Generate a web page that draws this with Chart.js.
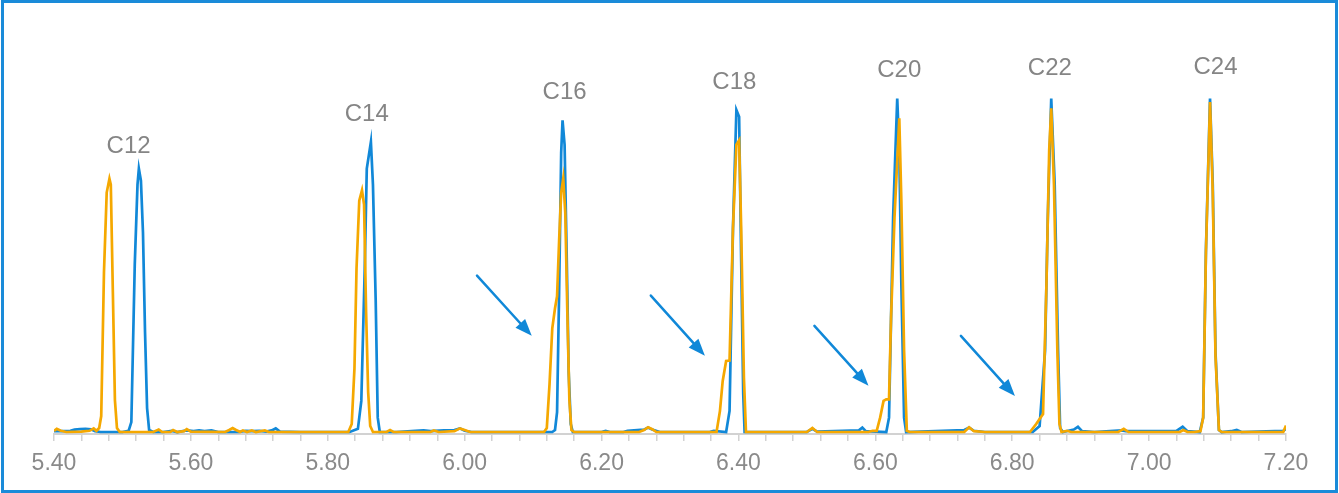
<!DOCTYPE html>
<html>
<head>
<meta charset="utf-8">
<script src="https://cdn.jsdelivr.net/npm/chart.js@4.4.1/dist/chart.umd.min.js"></script>
<style>
  html, body { margin: 0; padding: 0; background: #ffffff; }
  canvas { display: block; }
</style>
</head>
<body>
<canvas id="chrom" width="1339" height="493"></canvas>
<script>
// Retention time (min) and detector response for the two overlaid traces.
const blueTimes = [
  5.400, 5.412, 5.424, 5.430, 5.438, 5.446, 5.454, 5.460, 5.468, 5.500,
  5.509, 5.513, 5.518, 5.522, 5.524, 5.527, 5.530, 5.533, 5.536, 5.539,
  5.545, 5.560, 5.572, 5.580, 5.594, 5.604, 5.612, 5.620, 5.630, 5.640,
  5.670, 5.680, 5.690, 5.700, 5.710, 5.718, 5.724, 5.730, 5.760, 5.832,
  5.844, 5.849, 5.854, 5.857, 5.863, 5.866, 5.870, 5.873, 5.876, 5.900,
  5.928, 5.940, 5.950, 5.970, 5.985, 5.993, 6.000, 6.010, 6.100, 6.128,
  6.132, 6.135, 6.138, 6.141, 6.143, 6.146, 6.149, 6.152, 6.155, 6.158,
  6.200, 6.206, 6.212, 6.232, 6.238, 6.262, 6.268, 6.274, 6.285, 6.358,
  6.364, 6.382, 6.387, 6.392, 6.397, 6.401, 6.404, 6.407, 6.409, 6.500,
  6.508, 6.515, 6.576, 6.581, 6.586, 6.616, 6.620, 6.626, 6.632, 6.635,
  6.638, 6.642, 6.645, 6.730, 6.737, 6.744, 6.760, 6.830, 6.840, 6.848,
  6.852, 6.857, 6.862, 6.867, 6.870, 6.874, 6.890, 6.896, 6.902, 6.920,
  6.960, 6.966, 7.040, 7.049, 7.056, 7.074, 7.079, 7.083, 7.089, 7.093,
  7.097, 7.102, 7.106, 7.120, 7.128, 7.135, 7.196, 7.200
];
const blueValues = [
  0.2, 0.2, 0.3, 0.6, 0.7, 0.8, 0.7, 0.2, 0.0, 0.0,
  0.3, 2.5, 42, 62, 66, 63, 50, 25, 6, 0.5,
  0.0, 0.0, 0.3, 0.0, 0.4, 0.2, 0.4, 0.2, 0.4, 0.0,
  0.0, 0.3, 0.2, 0.3, 0.1, 0.4, 0.9, 0.1, 0.0, 0.0,
  0.8, 7.8, 41, 66, 72.7, 62, 33, 3.6, 0.0, 0.0,
  0.3, 0.4, 0.2, 0.4, 0.5, 0.9, 0.3, 0.0, 0.0, 0.0,
  0.5, 5, 35, 70, 78.1, 72, 45, 15, 2, 0.0,
  0.0, 0.3, 0.0, 0.0, 0.3, 0.6, 1.1, 0.6, 0.0, 0.0,
  0.3, 0.0, 5.3, 51, 80.7, 79, 43, 9.5, 0.0, 0.0,
  0.8, 0.1, 0.4, 1.1, 0.2, 0.0, 3.6, 53.8, 83.6, 70.6,
  37.2, 3.6, 0.0, 0.5, 1.1, 0.3, 0.0, 0.0, 1.5, 20.4,
  53.8, 83.6, 62.3, 20.4, 1.0, 0.0, 0.6, 1.3, 0.2, 0.0,
  0.4, 0.2, 0.3, 1.3, 0.2, 0.0, 3.6, 45.5, 83.6, 62,
  20, 0.5, 0.0, 0.2, 0.5, 0.0, 0.3, 0.8
];
const orangeTimes = [
  5.400, 5.404, 5.410, 5.418, 5.440, 5.452, 5.458, 5.462, 5.466, 5.469,
  5.473, 5.477, 5.481, 5.483, 5.486, 5.489, 5.492, 5.496, 5.545, 5.553,
  5.558, 5.570, 5.574, 5.580, 5.590, 5.594, 5.600, 5.650, 5.656, 5.661,
  5.666, 5.672, 5.676, 5.682, 5.689, 5.695, 5.708, 5.714, 5.830, 5.835,
  5.839, 5.842, 5.846, 5.850, 5.853, 5.856, 5.859, 5.862, 5.866, 5.886,
  5.891, 5.896, 5.950, 5.955, 5.962, 5.985, 5.993, 6.000, 6.008, 6.116,
  6.120, 6.124, 6.128, 6.132, 6.135, 6.138, 6.141, 6.144, 6.147, 6.150,
  6.153, 6.156, 6.160, 6.255, 6.262, 6.268, 6.274, 6.280, 6.368, 6.373,
  6.377, 6.382, 6.387, 6.392, 6.397, 6.401, 6.404, 6.408, 6.411, 6.500,
  6.508, 6.515, 6.590, 6.596, 6.602, 6.607, 6.612, 6.616, 6.620, 6.623,
  6.628, 6.635, 6.638, 6.642, 6.646, 6.650, 6.730, 6.737, 6.744, 6.760,
  6.826, 6.835, 6.845, 6.850, 6.854, 6.857, 6.861, 6.866, 6.869, 6.872,
  6.880, 6.886, 6.955, 6.963, 6.970, 7.045, 7.050, 7.056, 7.066, 7.075,
  7.079, 7.083, 7.089, 7.093, 7.097, 7.102, 7.106, 7.196, 7.200
];
const orangeValues = [
  0.3, 0.8, 0.3, 0.0, 0.1, 0.3, 0.9, 0.3, 1.0, 4,
  40, 60, 63.5, 62, 35, 8, 1, 0.0, 0.0, 0.6,
  0.0, 0.0, 0.5, 0.0, 0.2, 0.7, 0.1, 0.0, 0.5, 1.0,
  0.5, 0.0, 0.4, 0.0, 0.4, 0.0, 0.4, 0.0, 0.0, 2,
  16, 41, 58, 60.6, 57, 30, 10, 1.5, 0.0, 0.0,
  0.5, 0.0, 0.0, 0.4, 0.0, 0.2, 0.9, 0.5, 0.0, 0.0,
  1, 12, 26, 31, 34, 48, 60, 63.5, 55, 30,
  8, 0.5, 0.0, 0.0, 0.5, 1.2, 0.7, 0.0, 0.0, 5.3,
  12.8, 17.8, 17.9, 51, 72, 73.1, 51, 13.6, 0.0, 0.0,
  1.0, 0.0, 0.0, 0.3, 0.3, 3.6, 7.8, 8.2, 8.2, 28.7,
  53.8, 78.6, 58, 20.4, 0.3, 0.0, 0.0, 1.2, 0.2, 0.0,
  0.0, 2, 4.5, 37, 70.6, 81.1, 62, 20, 2, 0.0,
  0.3, 0.0, 0.0, 0.8, 0.0, 0.0, 0.5, 0.0, 0.0, 0.2,
  3.6, 45, 82.7, 60, 19, 0.5, 0.0, 0.0, 1.6
];

// Peak names and where their captions sit (time, response level).
const peakNames = ['C12', 'C14', 'C16', 'C18', 'C20', 'C22', 'C24'];
const peakLabelTimes = [5.509, 5.857, 6.146, 6.394, 6.635, 6.855, 7.097];
const peakLabelLevels = [71.6, 79.7, 85.0, 87.6, 90.7, 91.2, 91.3];

// Arrows pointing at the leading shoulders: tail and tip in (time, response).
const arrowTailTimes = [6.018, 6.272, 6.511, 6.725];
const arrowTailLevels = [39.2, 34.2, 26.6, 24.1];
const arrowTipTimes = [6.098, 6.351, 6.590, 6.804];
const arrowTipLevels = [24.1, 19.1, 11.6, 9.0];

// Axis range and tick spacing.
const timeMin = 5.40;
const timeMax = 7.20;
const minorStep = 0.04;

const BLUE = '#1188d8';
const ORANGE = '#f5a800';
const ARROW = '#1088d8';
const LABEL_GREY = '#858585';
const AXIS_GREY = '#d2d2d2';

const toPoints = (xs, ys) => xs.map((x, i) => ({ x, y: ys[i] }));

const overlays = {
  id: 'overlays',
  afterDatasetsDraw(chart) {
    const { ctx, scales: { x, y } } = chart;
    ctx.save();
    // peak captions
    ctx.fillStyle = LABEL_GREY;
    ctx.font = '24px "Liberation Sans", Arial, sans-serif';
    ctx.textAlign = 'center';
    ctx.textBaseline = 'middle';
    peakNames.forEach((name, i) => {
      ctx.fillText(name, x.getPixelForValue(peakLabelTimes[i]), y.getPixelForValue(peakLabelLevels[i]));
    });
    // arrows
    ctx.strokeStyle = ARROW;
    ctx.fillStyle = ARROW;
    ctx.lineWidth = 2.5;
    ctx.lineCap = 'round';
    arrowTailTimes.forEach((t, i) => {
      const x0 = x.getPixelForValue(t), y0 = y.getPixelForValue(arrowTailLevels[i]);
      const x1 = x.getPixelForValue(arrowTipTimes[i]), y1 = y.getPixelForValue(arrowTipLevels[i]);
      const ang = Math.atan2(y1 - y0, x1 - x0);
      const headLen = 17, headHalf = 6.5;
      const bx = x1 - headLen * Math.cos(ang), by = y1 - headLen * Math.sin(ang);
      ctx.beginPath();
      ctx.moveTo(x0, y0);
      ctx.lineTo(bx + 2 * Math.cos(ang), by + 2 * Math.sin(ang));
      ctx.stroke();
      ctx.beginPath();
      ctx.moveTo(x1, y1);
      ctx.lineTo(bx - headHalf * Math.sin(ang), by + headHalf * Math.cos(ang));
      ctx.lineTo(bx + headHalf * Math.sin(ang), by - headHalf * Math.cos(ang));
      ctx.closePath();
      ctx.fill();
    });
    ctx.restore();
  },
  afterDraw(chart) {
    const { ctx, width, height } = chart;
    ctx.save();
    ctx.strokeStyle = '#1a8bd9';
    ctx.lineWidth = 3;
    ctx.strokeRect(2.5, 1.5, width - 5, height - 3);
    ctx.restore();
  }
};

Chart.defaults.font.family = '"Liberation Sans", Arial, sans-serif';

new Chart(document.getElementById('chrom'), {
  type: 'line',
  data: {
    datasets: [
      {
        label: 'Sample B',
        data: toPoints(orangeTimes, orangeValues),
        borderColor: ORANGE,
        borderWidth: 2.7,
        pointRadius: 0,
        tension: 0,
        fill: false,
        order: 0
      },
      {
        label: 'Sample A',
        data: toPoints(blueTimes, blueValues),
        borderColor: BLUE,
        borderWidth: 2.7,
        pointRadius: 0,
        tension: 0,
        fill: false,
        order: 1
      }
    ]
  },
  options: {
    responsive: false,
    animation: false,
    events: [],
    layout: { padding: { left: 54, right: 53, top: 33, bottom: 6.4 } },
    plugins: { legend: { display: false }, tooltip: { enabled: false } },
    scales: {
      x: {
        type: 'linear',
        min: timeMin,
        max: timeMax,
        ticks: {
          stepSize: minorStep,
          autoSkip: false,
          maxRotation: 0,
          padding: 9,
          color: '#8a8a8a',
          font: { size: 23 },
          callback: (v) => (Math.round(v * 100) % 20 === 0 ? v.toFixed(2) : '')
        },
        grid: { drawOnChartArea: false, drawTicks: true, tickLength: 7, color: AXIS_GREY, lineWidth: 1.5 },
        border: { display: true, color: AXIS_GREY, width: 2 }
      },
      y: { display: false, min: -0.5, max: 100 }
    }
  },
  plugins: [overlays]
});
</script>
</body>
</html>
